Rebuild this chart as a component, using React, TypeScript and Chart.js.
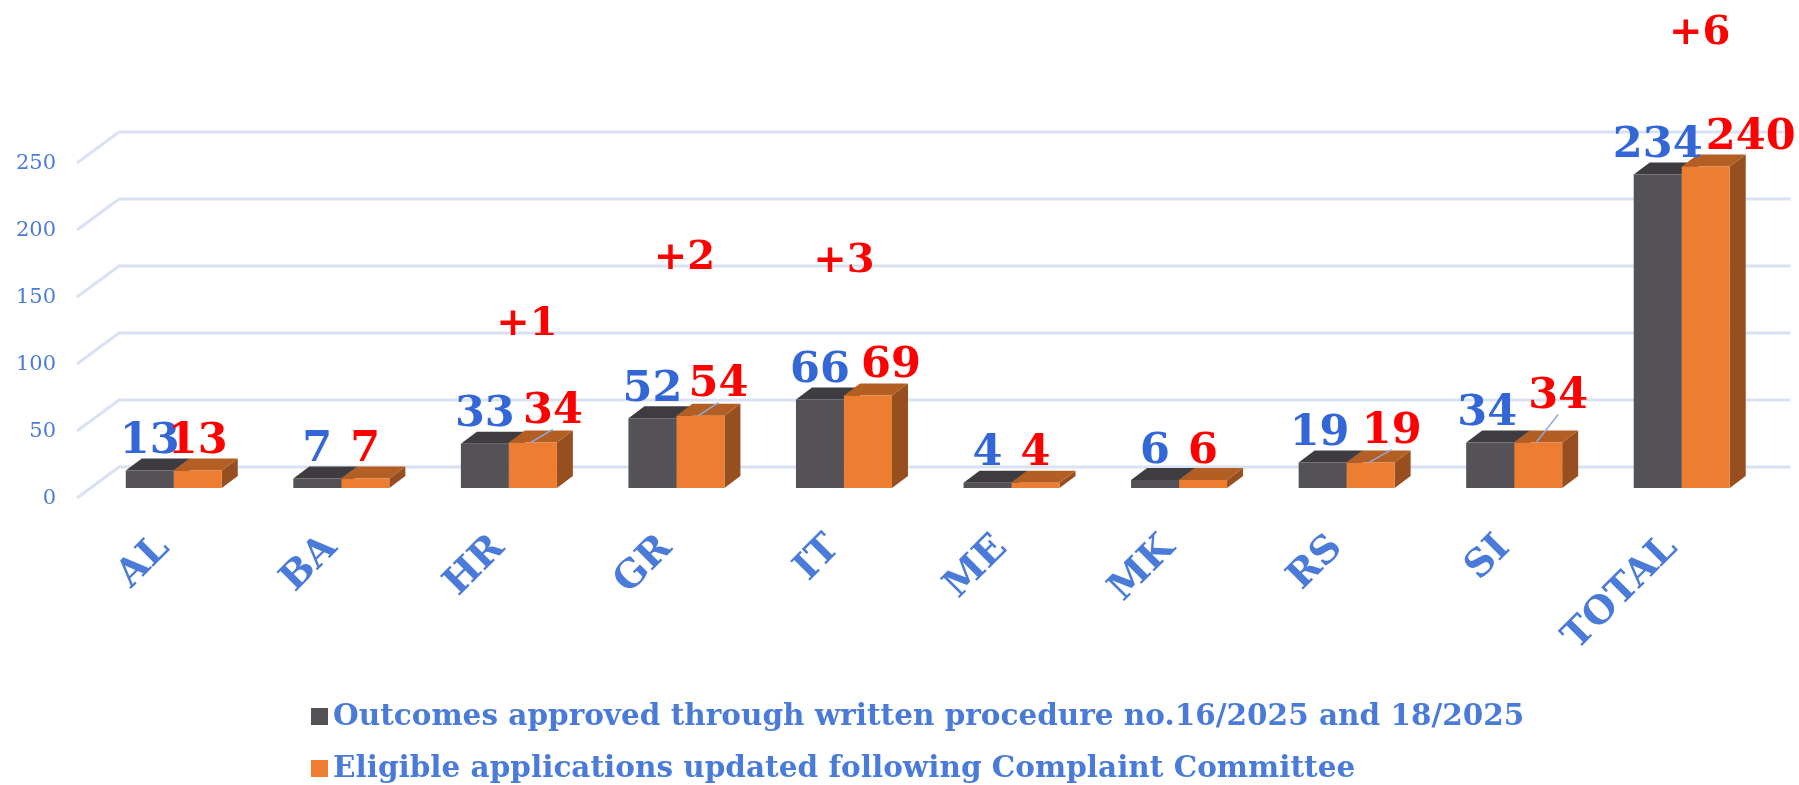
import React, { useEffect, useRef } from "react";
import { Chart, registerables } from "chart.js";
Chart.register(...registerables);

// ---------- data ----------
const categories = ["AL", "BA", "HR", "GR", "IT", "ME", "MK", "RS", "SI", "TOTAL"];
const approved = [13, 7, 33, 52, 66, 4, 6, 19, 34, 234];
const eligible = [13, 7, 34, 54, 69, 4, 6, 19, 34, 240];
const yTickValues = [0, 50, 100, 150, 200, 250];
const seriesNames = [
  "Outcomes approved through written procedure no.16/2025 and 18/2025",
  "Eligible applications updated following Complaint Committee",
];

// ---------- layout / style ----------
const W = 1799;
const H = 785;
const SERIF = "'DejaVu Serif', 'Liberation Serif', serif";
const AXIS_BLUE = "#4a7bd8";
const LABEL_BLUE = "#3366d6";
const LABEL_RED = "#ff0000";
const GRID = "#d9e2f4";
const FRONT = ["#545157", "#ed7d31"];
const TOP = ["#3f3c41", "#b35e23"];
const SIDE = ["#2f2d31", "#974f1f"];
const DEPTH_X = 16;
const DEPTH_Y = 12;
// label nudges [dx, dy] and whether a leader line is drawn
const blueNudge = [[0, 0], [0, 0], [0, 0], [0, 0], [0, 0], [0, 0], [0, 0], [-3, 0], [-3, 0], [0, 0]];
const redNudge = [[0, 0], [0, 0], [20, -2], [18, -2], [23, -1], [0, 0], [0, 0], [21, -2], [20, -17], [45, 0]];
const redLeader = [false, false, true, true, false, false, false, true, true, false];
// difference annotations: category index, value level, x nudge
const noteLayout = [
  { i: 2, level: 125, dx: 18 },
  { i: 3, level: 174, dx: 8 },
  { i: 4, level: 172, dx: 0 },
  { i: 9, level: 342, dx: 18 },
];

const threeD = {
  id: "threeD",
  beforeDatasetsDraw(chart: any) {
    const ctx = chart.ctx;
    const area = chart.chartArea;
    const ys = chart.scales.y;
    ctx.save();
    // floor / wall gridlines
    ctx.strokeStyle = GRID;
    ctx.lineWidth = 3;
    yTickValues.forEach((v) => {
      const y = ys.getPixelForValue(v);
      ctx.beginPath();
      ctx.moveTo(area.left - 13, y + 10);
      ctx.lineTo(area.left + 29, y - 21);
      ctx.lineTo(area.right + 25, y - 21);
      ctx.stroke();
    });
    // top and side faces
    chart.data.datasets.forEach((_: any, di: number) => {
      const meta = chart.getDatasetMeta(di);
      meta.data.forEach((bar: any) => {
        const l = bar.x - bar.width / 2;
        const r = bar.x + bar.width / 2;
        const t = bar.y;
        const b = bar.base;
        ctx.fillStyle = SIDE[di];
        ctx.beginPath();
        ctx.moveTo(r, t);
        ctx.lineTo(r + DEPTH_X, t - DEPTH_Y);
        ctx.lineTo(r + DEPTH_X, b - DEPTH_Y);
        ctx.lineTo(r, b);
        ctx.closePath();
        ctx.fill();
        ctx.fillStyle = TOP[di];
        ctx.beginPath();
        ctx.moveTo(l, t);
        ctx.lineTo(r, t);
        ctx.lineTo(r + DEPTH_X, t - DEPTH_Y);
        ctx.lineTo(l + DEPTH_X, t - DEPTH_Y);
        ctx.closePath();
        ctx.fill();
      });
    });
    ctx.restore();
  },
  afterDraw(chart: any) {
    const ctx = chart.ctx;
    const xs = chart.scales.x;
    const ys = chart.scales.y;
    ctx.save();
    const size = 43;
    ctx.font = `bold ${size}px ${SERIF}`;
    ctx.textAlign = "center";
    ctx.textBaseline = "alphabetic";
    // value labels
    chart.data.datasets.forEach((ds: any, di: number) => {
      const meta = chart.getDatasetMeta(di);
      meta.data.forEach((bar: any, i: number) => {
        const nudge = di === 0 ? blueNudge[i] : redNudge[i];
        const cx = bar.x + nudge[0];
        const cy = bar.y - 33 + nudge[1];
        if (di === 1 && redLeader[i]) {
          ctx.strokeStyle = "#8faadc";
          ctx.lineWidth = 1.5;
          ctx.beginPath();
          ctx.moveTo(bar.x - 2, bar.y);
          ctx.lineTo(cx, cy + 22);
          ctx.stroke();
        }
        ctx.fillStyle = di === 0 ? LABEL_BLUE : LABEL_RED;
        ctx.fillText(String(ds.data[i]), cx, cy + size * 0.365);
      });
    });
    // difference notes
    ctx.fillStyle = LABEL_RED;
    const ns = 40;
    ctx.font = `bold ${ns}px ${SERIF}`;
    noteLayout.forEach((n) => {
      const d = eligible[n.i] - approved[n.i];
      const x = xs.getPixelForValue(n.i) + n.dx;
      const y = ys.getPixelForValue(n.level);
      ctx.fillText("+" + d, x, y + ns * 0.365);
    });
    // legend
    ctx.textAlign = "left";
    ctx.textBaseline = "middle";
    ctx.font = `bold 29.5px ${SERIF}`;
    chart.data.datasets.forEach((ds: any, di: number) => {
      const cy = 716.5 + 52 * di;
      ctx.fillStyle = FRONT[di];
      ctx.fillRect(311, cy - 8.5, 17, 17);
      ctx.fillStyle = AXIS_BLUE;
      ctx.fillText(ds.label, 333, cy + 1);
    });
    ctx.restore();
  },
};

export default function App() {
  const ref = useRef<HTMLCanvasElement | null>(null);
  useEffect(() => {
    if (!ref.current) return;
    const chart = new Chart(ref.current, {
      type: "bar",
      data: {
        labels: categories,
        datasets: [
          { label: seriesNames[0], data: approved, backgroundColor: FRONT[0], borderWidth: 0 },
          { label: seriesNames[1], data: eligible, backgroundColor: FRONT[1], borderWidth: 0 },
        ],
      },
      options: {
        responsive: false,
        animation: false,
        events: [],
        datasets: { bar: { categoryPercentage: 0.573, barPercentage: 1 } },
        layout: { padding: { top: 153, left: 0, right: 33.5, bottom: 0 } },
        plugins: { legend: { display: false }, tooltip: { enabled: false } },
        scales: {
          x: {
            grid: { display: false, drawTicks: false },
            border: { display: false },
            ticks: {
              autoSkip: false,
              maxRotation: 45,
              minRotation: 45,
              padding: 38,
              labelOffset: -10,
              color: AXIS_BLUE,
              font: { family: SERIF, size: 38, weight: "bold" },
            },
            afterFit: (s: any) => {
              s.height = 297;
            },
          },
          y: {
            min: 0,
            max: 250,
            grid: { display: false, drawTicks: false },
            border: { display: false },
            ticks: {
              stepSize: 50,
              padding: 34,
              labelOffset: 11,
              color: AXIS_BLUE,
              font: { family: SERIF, size: 21 },
            },
            afterFit: (s: any) => {
              s.width = 90;
            },
          },
        },
      },
      plugins: [threeD],
    });
    return () => chart.destroy();
  }, []);
  return (
    <div style={{ position: "absolute", left: 0, top: 0, width: W, height: H, background: "#fff" }}>
      <canvas ref={ref} width={W} height={H} />
    </div>
  );
}
